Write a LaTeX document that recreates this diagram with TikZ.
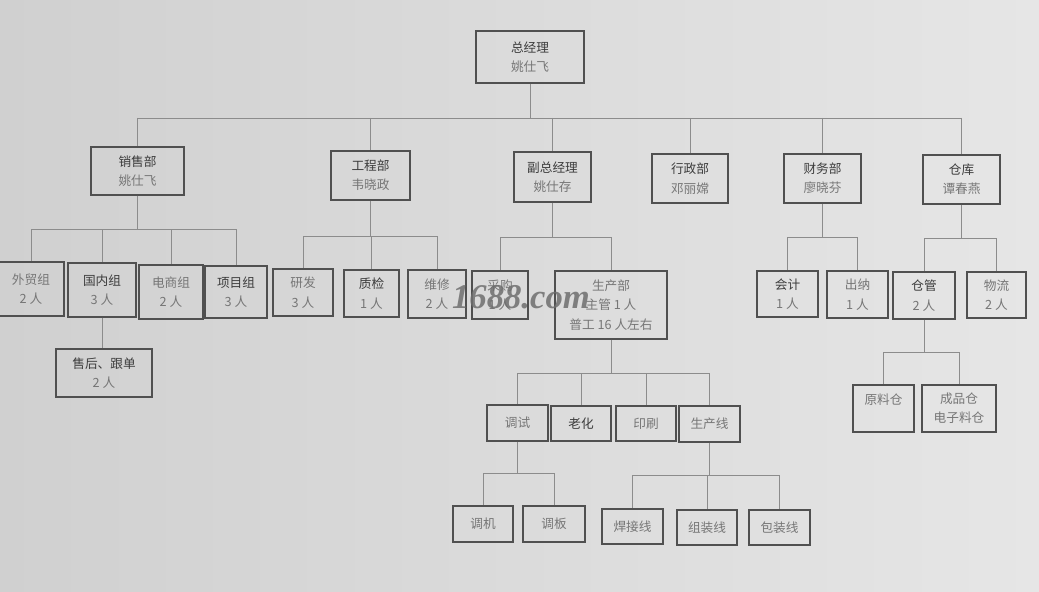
\documentclass[tikz,border=0pt]{standalone}
\usepackage{fontspec}
\setmainfont{Noto Sans CJK SC}
\newfontfamily\wmfont{Liberation Serif}
\definecolor{bgl}{HTML}{D0D0D0}
\definecolor{bgr}{HTML}{E6E6E6}
\definecolor{boxc}{HTML}{505050}
\definecolor{linec}{HTML}{8C8C8C}
\definecolor{txta}{HTML}{3C3C3C}
\definecolor{txtb}{HTML}{767676}
\definecolor{wmc}{HTML}{6E6E6E}
\newcommand\orgbox[6]{\node[box, minimum width={(#4-#2)*0.75pt}, minimum height={(#5-#3)*0.75pt}] (#1) at ({(#2+#4)/2},{(#3+#5)/2}) {#6};}
\newcommand\sub[1]{\textcolor{txtb}{#1}}
\begin{document}
\begin{tikzpicture}[x=0.75pt,y=-0.75pt,
  box/.style={draw=boxc, line width=0.9pt, align=center, inner sep=1pt,
    font=\fontsize{9.5}{14.5}\selectfont, text=txta},
  conn/.style={draw=linec, line width=0.6pt}]
\shade[left color=bgl, right color=bgr] (0,0) rectangle (1039,592);
\useasboundingbox (0,0) rectangle (1039,592);

% level 1
\orgbox{ceo}{476}{31}{584}{83}{总经理\\\sub{姚仕飞}}
\orgbox{sales}{91}{147}{184}{195}{销售部\\\sub{姚仕飞}}
\orgbox{eng}{331}{151}{410}{200}{工程部\\\sub{韦晓政}}
\orgbox{vgm}{514}{152}{591}{202}{副总经理\\\sub{姚仕存}}
\orgbox{adm}{652}{154}{728}{203}{行政部\\\sub{邓丽嫦}}
\orgbox{fin}{784}{154}{861}{203}{财务部\\\sub{廖晓芬}}
\orgbox{wh}{923}{155}{1000}{204}{仓库\\\sub{谭春燕}}

% sales children
\orgbox{s1}{-2}{262}{64}{316}{\sub{外贸组}\\\sub{2 人}}
\orgbox{s2}{68}{263}{136}{317}{国内组\\\sub{3 人}}
\orgbox{s3}{139}{265}{203}{319}{\sub{电商组}\\\sub{2 人}}
\orgbox{s4}{205}{266}{267}{318}{项目组\\\sub{3 人}}
\orgbox{s5}{56}{349}{152}{397}{售后、跟单\\\sub{2 人}}

% engineering children
\orgbox{e1}{273}{269}{333}{316}{\sub{研发}\\\sub{3 人}}
\orgbox{e2}{344}{270}{399}{317}{质检\\\sub{1 人}}
\orgbox{e3}{408}{270}{466}{318}{\sub{维修}\\\sub{2 人}}

% vice GM children
\orgbox{v1}{472}{271}{528}{319}{\sub{采购}\\\sub{1 人}}
\orgbox{v2}{555}{271}{667}{339}{\sub{生产部}\\\sub{主管 1 人}\\\sub{普工 16 人左右}}

% production children
\orgbox{p1}{487}{405}{548}{441}{\sub{调试}}
\orgbox{p2}{551}{406}{611}{441}{老化}
\orgbox{p3}{616}{406}{676}{441}{\sub{印刷}}
\orgbox{p4}{679}{406}{740}{442}{\sub{生产线}}
\orgbox{t1}{453}{506}{513}{542}{\sub{调机}}
\orgbox{t2}{523}{506}{585}{542}{\sub{调板}}
\orgbox{l1}{602}{509}{663}{544}{\sub{焊接线}}
\orgbox{l2}{677}{510}{737}{545}{\sub{组装线}}
\orgbox{l3}{749}{510}{810}{545}{\sub{包装线}}

% finance / warehouse children
\orgbox{f1}{757}{271}{818}{317}{会计\\\sub{1 人}}
\orgbox{f2}{827}{271}{888}{318}{\sub{出纳}\\\sub{1 人}}
\orgbox{w1}{893}{272}{955}{319}{仓管\\\sub{2 人}}
\orgbox{w2}{967}{272}{1026}{318}{\sub{物流}\\\sub{2 人}}
\orgbox{w3}{853}{385}{914}{432}{\sub{原料仓}\\~}
\orgbox{w4}{922}{385}{996}{432}{\sub{成品仓}\\\sub{电子料仓}}

% connectors
\coordinate (j0) at (530,118);
\draw[conn] (ceo.south) -- (ceo.south |- j0);
\draw[conn] (sales.north |- j0) -- (wh.north |- j0);
\foreach \n in {sales,eng,vgm,adm,fin,wh} \draw[conn] (\n.north |- j0) -- (\n.north);

\coordinate (js) at (138,229);
\draw[conn] (sales.south) -- (sales.south |- js);
\draw[conn] (s1.north |- js) -- (s4.north |- js);
\foreach \n in {s1,s2,s3,s4} \draw[conn] (\n.north |- js) -- (\n.north);
\draw[conn] (s2.south) -- (s2.south |- s5.north);

\coordinate (je) at (370,236);
\draw[conn] (eng.south) -- (eng.south |- je);
\draw[conn] (e1.north |- je) -- (e3.north |- je);
\foreach \n in {e1,e2,e3} \draw[conn] (\n.north |- je) -- (\n.north);

\coordinate (jv) at (552,237);
\draw[conn] (vgm.south) -- (vgm.south |- jv);
\draw[conn] (v1.north |- jv) -- (v2.north |- jv);
\foreach \n in {v1,v2} \draw[conn] (\n.north |- jv) -- (\n.north);

\coordinate (jp) at (611,373);
\draw[conn] (v2.south) -- (v2.south |- jp);
\draw[conn] (p1.north |- jp) -- (p4.north |- jp);
\foreach \n in {p1,p2,p3,p4} \draw[conn] (\n.north |- jp) -- (\n.north);

\coordinate (jt) at (517.5,473);
\draw[conn] (p1.south) -- (p1.south |- jt);
\draw[conn] (t1.north |- jt) -- (t2.north |- jt);
\foreach \n in {t1,t2} \draw[conn] (\n.north |- jt) -- (\n.north);

\coordinate (jl) at (709.5,475);
\draw[conn] (p4.south) -- (p4.south |- jl);
\draw[conn] (l1.north |- jl) -- (l3.north |- jl);
\foreach \n in {l1,l2,l3} \draw[conn] (\n.north |- jl) -- (\n.north);

\coordinate (jf) at (822.5,237);
\draw[conn] (fin.south) -- (fin.south |- jf);
\draw[conn] (f1.north |- jf) -- (f2.north |- jf);
\foreach \n in {f1,f2} \draw[conn] (\n.north |- jf) -- (\n.north);

\coordinate (jw) at (961.5,238);
\draw[conn] (wh.south) -- (wh.south |- jw);
\draw[conn] (w1.north |- jw) -- (w2.north |- jw);
\foreach \n in {w1,w2} \draw[conn] (\n.north |- jw) -- (\n.north);

\coordinate (jg) at (924,352);
\draw[conn] (w1.south) -- (w1.south |- jg);
\draw[conn] (w3.north |- jg) -- (w4.north |- jg);
\foreach \n in {w3,w4} \draw[conn] (\n.north |- jg) -- (\n.north);

% watermark
\node[font=\wmfont\bfseries\itshape\fontsize{26}{26}\selectfont, text=wmc, opacity=0.85] (wm) at (521,297) {1688.com};
\end{tikzpicture}
\end{document}
